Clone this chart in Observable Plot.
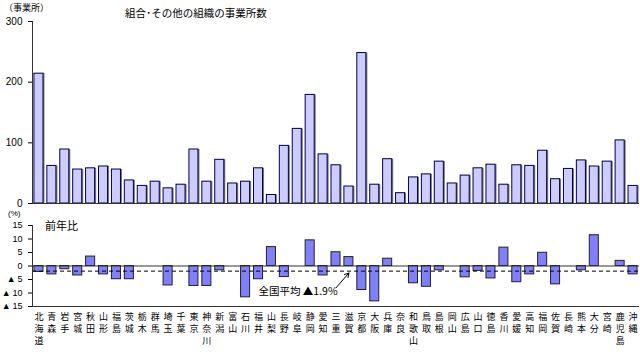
<!DOCTYPE html>
<html><head><meta charset="utf-8">
<script src="https://cdn.jsdelivr.net/npm/d3@7"></script>
<script src="https://cdn.jsdelivr.net/npm/@observablehq/plot@0.6"></script>
<style>
body{margin:0;background:#fff;font-family:"Noto Sans CJK JP",sans-serif;}
#c{position:relative;width:640px;height:362px;overflow:hidden;}
.t{position:absolute;white-space:nowrap;color:#000;line-height:1;}
#topPanel,#botPanel{position:absolute;left:0;}
#topPanel{top:0}
#botPanel{top:210px}
</style></head><body>
<div id="c">
<div id="topPanel"></div><div id="botPanel"></div>
<div class="t" style="left:4px;top:3px;font-size:9px">（事業所）</div>
<div class="t" style="left:125px;top:8px;font-size:10.5px">組合･その他の組織の事業所数</div>
<div class="t" style="left:8px;top:209.5px;font-size:8px;font-family:'Liberation Sans',sans-serif">(%)</div>
<div class="t" style="left:45px;top:220px;font-size:11px">前年比</div>
</div>
<script>
const prefectures = ["北海道","青森","岩手","宮城","秋田","山形","福島","茨城","栃木","群馬","埼玉","千葉","東京","神奈川","新潟","富山","石川","福井","山梨","長野","岐阜","静岡","愛知","三重","滋賀","京都","大阪","兵庫","奈良","和歌山","鳥取","島根","岡山","広島","山口","徳島","香川","愛媛","高知","福岡","佐賀","長崎","熊本","大分","宮崎","鹿児島","沖縄"];
const counts = [214,62,89,56,58,61,56,38,29,36,25,31,89,36,72,33,36,58,14,95,123,179,81,63,28,248,31,73,17,43,48,69,33,46,58,64,31,63,62,87,40,57,71,61,69,104,29];
const changes = [-2.2,-3.1,-1.2,-3.5,3.5,-3.1,-4.9,-4.9,0,0,-7.2,0,-7.4,-7.4,-1.6,0,-11.6,-4.9,7.0,-4.1,0,9.5,-3.5,5.1,3.3,-8.9,-13.1,2.7,0,-6.4,-7.7,-1.6,0,-4.2,-1.8,-4.6,6.8,-6.0,-3.1,4.9,-6.8,0,-1.6,11.4,0,1.9,-3.1];
const nationalAvg = -1.9;
const nationalLabel = "全国平均 ▲1.9%";
const yTicksTop = [0,100,200,300];
const yTicksBottom = [-15,-10,-5,0,5,10,15];
const labelAnchor = {x: "福井", y: -9.6};
const arrowSpec = {x1: "三重", y1: -8.1, x2: "滋賀", y2: -2.6};

const rows = prefectures.map((p,i)=>({name:p, count:counts[i], change:changes[i]}));
const font = '"Noto Sans CJK JP", sans-serif';
const numFont = '"Liberation Sans", "Noto Sans CJK JP", sans-serif';
const xOpts = {type:"band", domain: prefectures, paddingInner:0.3, paddingOuter:0.15};

const topChart = Plot.plot({
  width:640, height:210, marginLeft:32, marginRight:1, marginTop:21, marginBottom:7,
  style:{fontFamily:numFont, fontSize:"10px", color:"#000", background:"transparent"},
  x:{...xOpts, axis:null},
  y:{domain:[0,300], ticks:yTicksTop, tickSize:4, tickPadding:6, label:null},
  marks:[
    Plot.barY(rows,{x:"name", y:"count", fill:"#777", dx:1.5}),
    Plot.barY(rows,{x:"name", y:"count", fill:"#ccccff", stroke:"#000050", strokeWidth:1}),
    Plot.ruleY([0],{stroke:"#333"}),
    Plot.frame({anchor:"left", stroke:"#333"})
  ]
});
document.getElementById("topPanel").append(topChart);

const botChart = Plot.plot({
  width:640, height:152, marginLeft:32, marginRight:1, marginTop:15, marginBottom:56,
  style:{fontFamily:font, fontSize:"9px", color:"#000", background:"transparent"},
  x:{...xOpts, label:null},
  y:{domain:[-15,15], label:null},
  marks:[
    Plot.axisY({ticks:yTicksBottom, tickSize:4, tickPadding:6, label:null, fontFamily:numFont, fontSize:9,
      tickFormat:d => d<0 ? "▲\u2009"+(-d) : String(d)}),
    Plot.axisX({tickSize:0, tickPadding:5, lineHeight:1.33, fontSize:9, label:null,
      tickFormat:d => [...d].join("\n")}),
    Plot.barY(rows,{x:"name", y:"change", fill:"#8080ff", stroke:"#222", strokeWidth:1}),
    Plot.ruleY([0],{stroke:"#333"}),
    Plot.ruleY([-15],{stroke:"#333"}),
    Plot.ruleY([nationalAvg],{stroke:"#000", strokeDasharray:"4,3"}),
    Plot.text([labelAnchor],{x:"x", y:"y", text:()=>nationalLabel, textAnchor:"start", fontSize:10.5, fill:"#000"}),
    Plot.arrow([arrowSpec],{x1:"x1", y1:"y1", x2:"x2", y2:"y2", stroke:"#000", headLength:7, strokeWidth:1}),
    Plot.frame({anchor:"left", stroke:"#333"})
  ]
});
document.getElementById("botPanel").append(botChart);
</script>
</body></html>
